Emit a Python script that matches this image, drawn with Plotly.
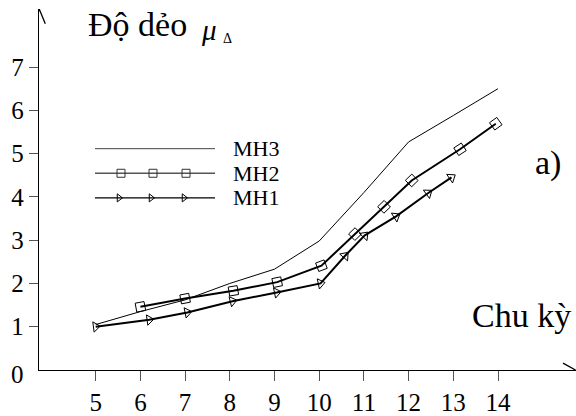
import math
import plotly.graph_objects as go

# ---- data ----
cycles_mh3 = [5, 6, 7, 8, 9, 10, 11, 12, 13, 14]
ductility_mh3 = [1.05, 1.35, 1.62, 2.0, 2.33, 2.98, 4.1, 5.27, 5.88, 6.5]

cycles_mh2 = [6, 7, 8.08, 9.06, 10.05, 10.8, 11.45, 12.07, 13.15, 13.95]
ductility_mh2 = [1.46, 1.65, 1.83, 2.03, 2.41, 3.14, 3.77, 4.38, 5.1, 5.69]

cycles_mh1 = [5, 6.2, 7.05, 8.06, 9.05, 10.03, 10.58, 11.02, 11.72, 12.44, 12.96]
ductility_mh1 = [1.0, 1.16, 1.33, 1.59, 1.79, 2.0, 2.64, 3.11, 3.55, 4.09, 4.45]

x_ticks = [5, 6, 7, 8, 9, 10, 11, 12, 13, 14]
y_ticks = [1, 2, 3, 4, 5, 6, 7]
legend_names = ["MH3", "MH2", "MH1"]

FONT = "Liberation Serif"
TICK_SIZE = 25
TITLE_SIZE = 34

PX_L, PX_R, PX_T, PX_B = 39, 576, 9, 376
PX_PER_X, PX_PER_Y = 44.7, 44.0
PLOT_W, PLOT_H = PX_R - PX_L, PX_B - PX_T


def marker_angles(xs, ys):
    """Rotate markers along the line direction (screen pixels, clockwise degrees)."""
    out = []
    for i in range(len(xs)):
        j0, j1 = (i - 1, i) if i > 0 else (0, 1)
        dx = (xs[j1] - xs[j0]) * PX_PER_X
        dy = (ys[j1] - ys[j0]) * PX_PER_Y
        out.append(-math.degrees(math.atan2(dy, dx)))
    return out


fig = go.Figure()

# data series
fig.add_trace(go.Scatter(x=cycles_mh3, y=ductility_mh3, mode="lines",
                         line=dict(color="black", width=1), showlegend=False))
fig.add_trace(go.Scatter(x=cycles_mh2, y=ductility_mh2, mode="lines+markers",
                         line=dict(color="black", width=2),
                         marker=dict(symbol="square-open", size=9, color="black",
                                     angle=marker_angles(cycles_mh2, ductility_mh2),
                                     line=dict(width=1)),
                         showlegend=False))
fig.add_trace(go.Scatter(x=cycles_mh1, y=ductility_mh1, mode="lines+markers",
                         line=dict(color="black", width=2),
                         marker=dict(symbol="triangle-right-open", size=9, color="black",
                                     angle=marker_angles(cycles_mh1, ductility_mh1),
                                     line=dict(width=1)),
                         showlegend=False))


# ---- decorative overlay in pixel coordinates (legend samples, arrows) ----
def px_trace(xs, ys, **kw):
    fig.add_trace(go.Scatter(x=xs, y=ys, xaxis="x2", yaxis="y3", showlegend=False,
                             hoverinfo="skip", cliponaxis=False, **kw))


# axis arrowheads
px_trace([33.3, 39.3, 45.3], [24, 9.3, 24], mode="lines", line=dict(color="black", width=1.3))
px_trace([563, 575.5, 563], [369, 376, 383], mode="lines", line=dict(color="black", width=1.3))

# custom legend
leg_y = [151, 176, 201]
leg_x0, leg_x1 = 95, 215
px_trace([leg_x0, leg_x1], [leg_y[0]] * 2, mode="lines", line=dict(color="#444", width=1))
px_trace([leg_x0, leg_x1], [leg_y[1]] * 2, mode="lines", line=dict(color="#555", width=1.6))
px_trace([121, 153, 186], [leg_y[1]] * 3, mode="markers",
         marker=dict(symbol="square-open", size=8, color="#333", line=dict(width=1)))
px_trace([leg_x0, leg_x1], [leg_y[2]] * 2, mode="lines", line=dict(color="black", width=1.3))
px_trace([119, 151, 184], [leg_y[2]] * 3, mode="markers",
         marker=dict(symbol="triangle-right-open", size=7, color="black", line=dict(width=1)))

annotations = []
for name, yy in zip(legend_names, leg_y):
    annotations.append(dict(x=231, y=yy, xref="x2", yref="y3", text=name, showarrow=False,
                            xanchor="left", yanchor="middle",
                            font=dict(family=FONT, size=22, color="black")))

annotations += [
    dict(x=86, y=25, xref="x2", yref="y3", text="Độ dẻo", showarrow=False,
         xanchor="left", yanchor="middle", font=dict(family=FONT, size=TITLE_SIZE, color="black")),
    dict(x=199, y=30, xref="x2", yref="y3", text="<i>μ</i>", showarrow=False,
         xanchor="left", yanchor="middle", font=dict(family=FONT, size=29, color="black")),
    dict(x=221, y=39, xref="x2", yref="y3", text="Δ", showarrow=False,
         xanchor="left", yanchor="middle", font=dict(family=FONT, size=14, color="black")),
    dict(x=573, y=321, xref="x2", yref="y3", text="Chu kỳ", showarrow=False,
         xanchor="right", yanchor="middle", font=dict(family=FONT, size=TITLE_SIZE, color="black")),
    dict(x=563, y=166, xref="x2", yref="y3", text="a)", showarrow=False,
         xanchor="right", yanchor="middle", font=dict(family=FONT, size=TITLE_SIZE, color="black")),
    dict(x=(17 - PX_L) / PLOT_W, y=(PX_B - 381) / PLOT_H, xref="paper", yref="paper",
         text="0", showarrow=False, xanchor="center", yanchor="middle",
         font=dict(family=FONT, size=TICK_SIZE, color="black")),
]

x_lo = 5 - (95.7 - PX_L) / PX_PER_X
x_hi = 5 + (PX_R - 95.7) / PX_PER_X
y_hi = (PX_B - PX_T) / PX_PER_Y

fig.update_layout(
    width=576, height=416,
    margin=dict(l=PX_L, r=576 - PX_R, t=PX_T, b=416 - PX_B, pad=0),
    paper_bgcolor="white", plot_bgcolor="white",
    font=dict(family=FONT, size=TICK_SIZE, color="black"),
    showlegend=False,
    xaxis=dict(range=[x_lo, x_hi], showline=True, linecolor="black", linewidth=1.3,
               ticks="outside", ticklen=10, tickwidth=1, tickcolor="#555",
               tickvals=x_ticks, showgrid=False, zeroline=False,
               tickfont=dict(family=FONT, size=TICK_SIZE, color="black")),
    yaxis=dict(range=[0, y_hi], showline=True, linecolor="black", linewidth=1.3,
               ticks="outside", ticklen=9, tickwidth=1, tickcolor="#555",
               tickvals=y_ticks, showgrid=False, zeroline=False,
               tickfont=dict(family=FONT, size=TICK_SIZE, color="black")),
    yaxis2=dict(range=[0, y_hi], overlaying="y", anchor="x", side="left",
                ticks="inside", ticklen=9, tickwidth=1, tickcolor="#555",
                tickvals=y_ticks, showticklabels=False, showgrid=False,
                zeroline=False, showline=False),
    xaxis2=dict(range=[PX_L, PX_R], overlaying="x", visible=False, anchor="y3"),
    yaxis3=dict(range=[PX_B, PX_T], overlaying="y", visible=False, anchor="x2"),
    annotations=annotations,
)

fig.write_html("out.html", config={"displayModeBar": False},
               post_script="document.body.style.margin='0px';document.body.style.overflow='hidden';")
